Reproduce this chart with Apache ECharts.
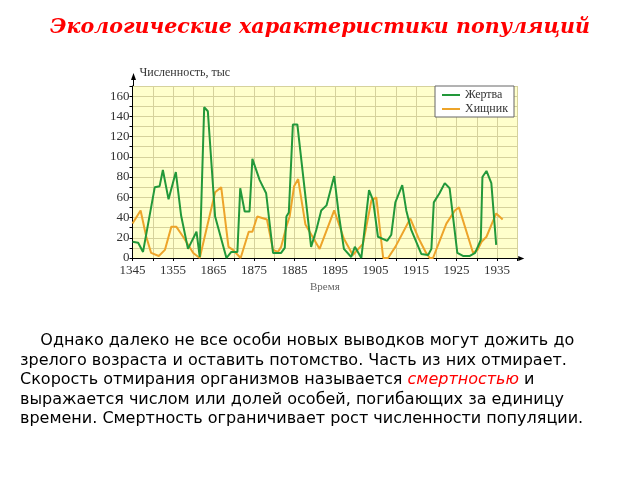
<!DOCTYPE html>
<html>
<head>
<meta charset="utf-8">
<script src="https://cdn.jsdelivr.net/npm/echarts@6/dist/echarts.min.js"></script>
<style>
  html, body { margin: 0; padding: 0; background: #fff; }
  #wrap { position: relative; width: 640px; height: 480px; overflow: hidden; }
  #chart { position: absolute; left: 0; top: 0; width: 640px; height: 480px; }
  #title { position: absolute; left: 0; top: 14px; width: 640px; text-align: center;
    font-family: "DejaVu Serif", serif; font-weight: bold; font-style: italic;
    font-size: 20.6px; color: #ff0000; white-space: nowrap; }
  #para { position: absolute; left: 20px; top: 330px; width: 620px;
    font-family: "DejaVu Sans", sans-serif; font-size: 16px; line-height: 19.5px;
    color: #000; white-space: nowrap; }
  #para .term { color: #ff0000; font-style: italic; }
</style>
</head>
<body>
<div id="wrap">
  <div id="chart"></div>
  <div id="title">Экологические характеристики популяций</div>
  <div id="para">&nbsp;&nbsp;&nbsp;&nbsp;Однако далеко не все особи новых выводков могут дожить до<br>зрелого возраста и оставить потомство. Часть из них отмирает.<br>Скорость отмирания организмов называется <span class="term">смертностью</span> и<br>выражается числом или долей особей, погибающих за единицу<br>времени. Смертность ограничивает рост численности популяции.</div>
</div>
<script>
// ---- data ----
const preyYears = [1845, 1846.4, 1847.6, 1850.5, 1851.7, 1852.5, 1853.9, 1855.7, 1857, 1858.7,
  1860.8, 1861.6, 1862.7, 1863.6, 1865.4, 1868.2, 1869.4, 1870.9, 1871.6, 1872.7,
  1873.9, 1874.6, 1876.4, 1878, 1879.7, 1881.7, 1882.6, 1883, 1883.6, 1884.6,
  1885.7, 1889.1, 1890.4, 1891.6, 1892.9, 1894.8, 1895.9, 1897.2, 1899, 1899.9,
  1901.5, 1903.4, 1904.4, 1905.6, 1907.9, 1908.9, 1909.9, 1911.6, 1912.6, 1913.8,
  1916.3, 1918, 1918.8, 1919.4, 1920.8, 1922.1, 1923.3, 1925.2, 1926.6, 1928.3,
  1929.6, 1931, 1931.4, 1932.4, 1933.6, 1934.8];
const preyValues = [16, 15, 6, 70, 71, 87, 58, 85, 42, 9,
  26, 1, 149, 145, 41, 0, 6, 6, 69, 46,
  46, 98, 77, 64, 5, 5, 10, 41, 45, 132,
  132, 11, 28, 47, 52, 81, 44, 9, 1, 11,
  0, 67, 57, 21, 17, 23, 55, 72, 47, 28,
  4, 3, 9, 55, 64, 74, 69, 5, 2, 2,
  5, 18, 80, 86, 74, 13];

const predatorYears = [1845, 1847, 1848.4, 1849.6, 1851.5, 1853, 1854.6, 1855.8, 1857.5, 1860,
  1861.6, 1865.4, 1866.9, 1868.7, 1869.8, 1871.7, 1873.7, 1874.6, 1875.8, 1878.2,
  1879.7, 1880.9, 1881.7, 1883, 1883.8, 1884.9, 1885.9, 1887.7, 1891.2, 1894.8,
  1897.2, 1899.4, 1901.9, 1904, 1905.2, 1906.9, 1908.1, 1909.9, 1913.6, 1915.7,
  1917.5, 1918.4, 1919.2, 1922.5, 1924.6, 1925.6, 1929.1, 1930.2, 1931.2, 1932.4,
  1934.8, 1935.6, 1936.4];
const predatorValues = [34, 47, 21, 5, 2, 8, 31, 31, 21, 5,
  0, 65, 70, 11, 8, 0, 26, 26, 41, 38,
  8, 6, 11, 31, 41, 71, 78, 33, 9, 47,
  19, 3, 14, 57, 60, 0, 0, 11, 39, 19,
  5, 0, 0, 34, 47, 50, 5, 8, 16, 21,
  44, 41, 38];

const seriesNames = ['Жертва', 'Хищник'];
const xTickYears = [1845, 1855, 1865, 1875, 1885, 1895, 1905, 1915, 1925, 1935];
const xTickLabels = ['1345', '1355', '1865', '1875', '1885', '1895', '1905', '1915', '1925', '1935'];
const yTickValues = [0, 20, 40, 60, 80, 100, 120, 140, 160];
const yAxisTitle = 'Численность, тыс';
const xAxisTitle = 'Время';

// ---- chart ----
const GREEN = '#22983a';
const ORANGE = '#eda42a';
const GRIDC = '#d6d29c';
const LABELFONT = '"Liberation Serif", "DejaVu Serif", serif';

const chart = echarts.init(document.getElementById('chart'), null, { renderer: 'canvas' });
chart.setOption({
  animation: false,
  grid: {
    left: 132.5, right: 122.75, top: 86, bottom: 222,
    show: true, backgroundColor: '#ffffcc', borderWidth: 0
  },
  legend: {
    data: seriesNames,
    orient: 'vertical',
    left: 435, top: 86,
    backgroundColor: '#ffffff',
    borderColor: '#666', borderWidth: 1,
    padding: [2, 6, 1, 7],
    itemWidth: 18, itemHeight: 2, itemGap: 0,
    icon: 'rect',
    textStyle: { fontFamily: LABELFONT, fontSize: 12, color: '#333', lineHeight: 14, padding: [0, 0, 0, 0] }
  },
  xAxis: {
    type: 'value', min: 1845, max: 1940, interval: 5,
    name: xAxisTitle, nameLocation: 'middle', nameGap: 24,
    nameTextStyle: { fontFamily: LABELFONT, fontSize: 11, color: '#666' },
    axisLine: { show: true, onZero: false, lineStyle: { color: '#000', width: 1 } },
    axisTick: { show: true, length: 3, lineStyle: { color: '#000' } },
    axisLabel: {
      margin: 6, fontFamily: LABELFONT, fontSize: 13, color: '#333',
      formatter: v => { const i = xTickYears.indexOf(v); return i >= 0 ? xTickLabels[i] : ''; }
    },
    splitLine: { show: true, lineStyle: { color: GRIDC, width: 1 } }
  },
  yAxis: {
    type: 'value', min: 0, max: 170, interval: 10,
    name: yAxisTitle, nameLocation: 'end', nameGap: 13,
    nameTextStyle: { fontFamily: LABELFONT, fontSize: 12, color: '#333', align: 'left', verticalAlign: 'middle', padding: [0, 0, 0, 7] },
    axisLine: { show: true, onZero: false, lineStyle: { color: '#000', width: 1 } },
    axisTick: { show: true, length: 3, lineStyle: { color: '#000' } },
    axisLabel: {
      margin: 3, fontFamily: LABELFONT, fontSize: 13, color: '#333',
      formatter: v => yTickValues.indexOf(v) >= 0 ? String(v) : ''
    },
    splitLine: { show: true, lineStyle: { color: GRIDC, width: 1 } }
  },
  series: [
    {
      name: seriesNames[0], type: 'line', showSymbol: false, symbol: 'none',
      data: preyYears.map((y, i) => [y, preyValues[i]]),
      lineStyle: { color: GREEN, width: 2 }, itemStyle: { color: GREEN }, z: 3
    },
    {
      name: seriesNames[1], type: 'line', showSymbol: false, symbol: 'none',
      data: predatorYears.map((y, i) => [y, predatorValues[i]]),
      lineStyle: { color: ORANGE, width: 2 }, itemStyle: { color: ORANGE }, z: 2
    }
  ]
});

// axis extensions with arrow heads, placed from the grid's own pixel positions
const pTop = chart.convertToPixel({ gridIndex: 0 }, [1845, 170]);
const pRight = chart.convertToPixel({ gridIndex: 0 }, [1940, 0]);
const ax = Math.round(pTop[0]) + 0.5, ay = pTop[1];
const bx = pRight[0], by = Math.round(pRight[1]) + 0.5;
chart.setOption({
  graphic: [
    { type: 'line', shape: { x1: ax, y1: ay, x2: ax, y2: ay - 8 }, style: { stroke: '#000', lineWidth: 1 }, z: 10 },
    { type: 'polygon', shape: { points: [[ax - 2.5, ay - 6], [ax + 2.5, ay - 6], [ax, ay - 13]] }, style: { fill: '#000' }, z: 10 },
    { type: 'line', shape: { x1: bx, y1: by, x2: bx + 3, y2: by }, style: { stroke: '#000', lineWidth: 1 }, z: 10 },
    { type: 'polygon', shape: { points: [[bx + 1, by - 2.5], [bx + 1, by + 2.5], [bx + 7, by]] }, style: { fill: '#000' }, z: 10 }
  ]
});
</script>
</body>
</html>
